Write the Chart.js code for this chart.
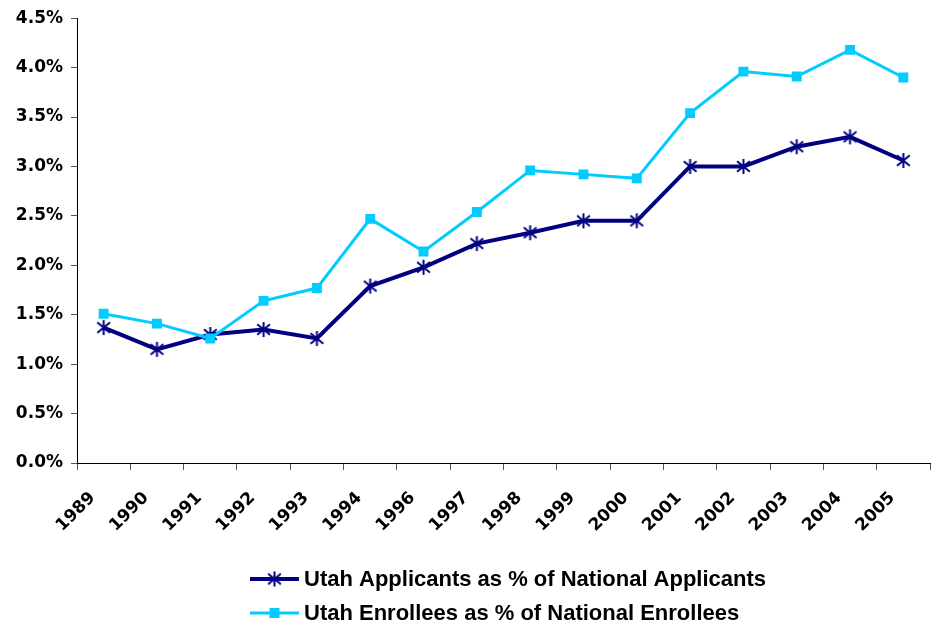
<!DOCTYPE html>
<html>
<head>
<meta charset="utf-8">
<script src="https://cdn.jsdelivr.net/npm/chart.js@4/dist/chart.umd.min.js"></script>
<style>
  html, body { margin: 0; padding: 0; background: #fff; }
  #wrap { width: 938px; height: 626px; }
</style>
</head>
<body>
<div id="wrap"><canvas id="utahChart" width="938" height="626"></canvas></div>
<script>
// Utah share of national applicants / enrollees, in percent
const YEARS = ["1989", "1990", "1991", "1992", "1993", "1994", "1996", "1997",
  "1998", "1999", "2000", "2001", "2002", "2003", "2004", "2005"];
const APPLICANTS = [1.37, 1.15, 1.30, 1.35, 1.26, 1.79, 1.98, 2.22,
  2.33, 2.45, 2.45, 3.00, 3.00, 3.20, 3.30, 3.06];
const ENROLLEES = [1.51, 1.41, 1.26, 1.64, 1.77, 2.47, 2.14, 2.54,
  2.96, 2.92, 2.88, 3.54, 3.96, 3.91, 4.18, 3.90];

const APPLICANTS_LABEL = "Utah Applicants as % of National Applicants";
const ENROLLEES_LABEL = "Utah Enrollees as % of National Enrollees";

const NAVY = "#000080";
const CYAN = "#00CCFF";

const TICK_FONT = { family: "'DejaVu Sans', sans-serif", size: 17, weight: "bold" };
const LEGEND_FONT = "bold 22px 'Liberation Sans', Arial, sans-serif";

// six-armed asterisk marker (vertical stroke + an X)
function makeAsterisk(size, color) {
  const c = document.createElement("canvas");
  c.width = size;
  c.height = size;
  const g = c.getContext("2d");
  const m = size / 2;
  const r = size / 2 - 1;
  g.strokeStyle = color;
  g.lineWidth = 2;
  g.beginPath();
  g.moveTo(m, m - r);
  g.lineTo(m, m + r);
  g.moveTo(m - r * 0.85, m - r * 0.7);
  g.lineTo(m + r * 0.85, m + r * 0.7);
  g.moveTo(m + r * 0.85, m - r * 0.7);
  g.lineTo(m - r * 0.85, m + r * 0.7);
  g.stroke();
  return c;
}
const asterisk = makeAsterisk(17, NAVY);

// Two-row legend under the x labels: line sample with its marker, then text
const bottomLegend = {
  id: "bottomLegend",
  afterDraw(chart) {
    const ctx = chart.ctx;
    const rows = [
      { y: 579, color: NAVY, width: 4, label: APPLICANTS_LABEL, marker: "star" },
      { y: 613, color: CYAN, width: 3, label: ENROLLEES_LABEL, marker: "rect" },
    ];
    const x0 = 250, x1 = 299, xm = (x0 + x1) / 2;
    ctx.save();
    rows.forEach((row) => {
      ctx.strokeStyle = row.color;
      ctx.lineWidth = row.width;
      ctx.beginPath();
      ctx.moveTo(x0, row.y);
      ctx.lineTo(x1, row.y);
      ctx.stroke();
      if (row.marker === "star") {
        ctx.drawImage(asterisk, xm - asterisk.width / 2, row.y - asterisk.height / 2);
      } else {
        ctx.fillStyle = row.color;
        ctx.fillRect(xm - 5, row.y - 5, 10, 10);
      }
      ctx.fillStyle = "#000";
      ctx.font = LEGEND_FONT;
      ctx.textBaseline = "middle";
      ctx.textAlign = "left";
      ctx.fillText(row.label, 304, row.y + 1);
    });
    ctx.restore();
  },
};

new Chart(document.getElementById("utahChart"), {
  type: "line",
  data: {
    labels: YEARS,
    datasets: [
      {
        label: APPLICANTS_LABEL,
        data: APPLICANTS,
        borderColor: NAVY,
        backgroundColor: NAVY,
        borderWidth: 4,
        pointStyle: asterisk,
        order: 1,
      },
      {
        label: ENROLLEES_LABEL,
        data: ENROLLEES,
        borderColor: CYAN,
        backgroundColor: CYAN,
        borderWidth: 3,
        pointStyle: "rect",
        pointRadius: 7,
        pointBorderWidth: 0,
        order: 0,
      },
    ],
  },
  options: {
    responsive: false,
    animation: false,
    layout: { padding: { top: 15, right: 8, left: 0, bottom: 0 } },
    plugins: {
      legend: { display: false },
      tooltip: { enabled: false },
    },
    scales: {
      x: {
        offset: true,
        grid: {
          offset: true,
          drawOnChartArea: false,
          drawTicks: true,
          tickLength: 7,
          color: "#555",
        },
        border: { color: "#000", width: 1 },
        ticks: {
          autoSkip: false,
          minRotation: 45,
          maxRotation: 45,
          padding: 18,
          labelOffset: -11,
          color: "#000",
          font: TICK_FONT,
        },
        afterFit: (scale) => { scale.height = 163; },
      },
      y: {
        min: 0,
        max: 4.5,
        grid: {
          drawOnChartArea: false,
          drawTicks: true,
          tickLength: 6,
          color: "#555",
        },
        border: { color: "#000", width: 1 },
        ticks: {
          stepSize: 0.5,
          padding: 8,
          color: "#000",
          font: TICK_FONT,
          callback: (v) => v.toFixed(1) + "%",
        },
        afterFit: (scale) => { scale.width = 77; },
      },
    },
  },
  plugins: [bottomLegend],
});
</script>
</body>
</html>
